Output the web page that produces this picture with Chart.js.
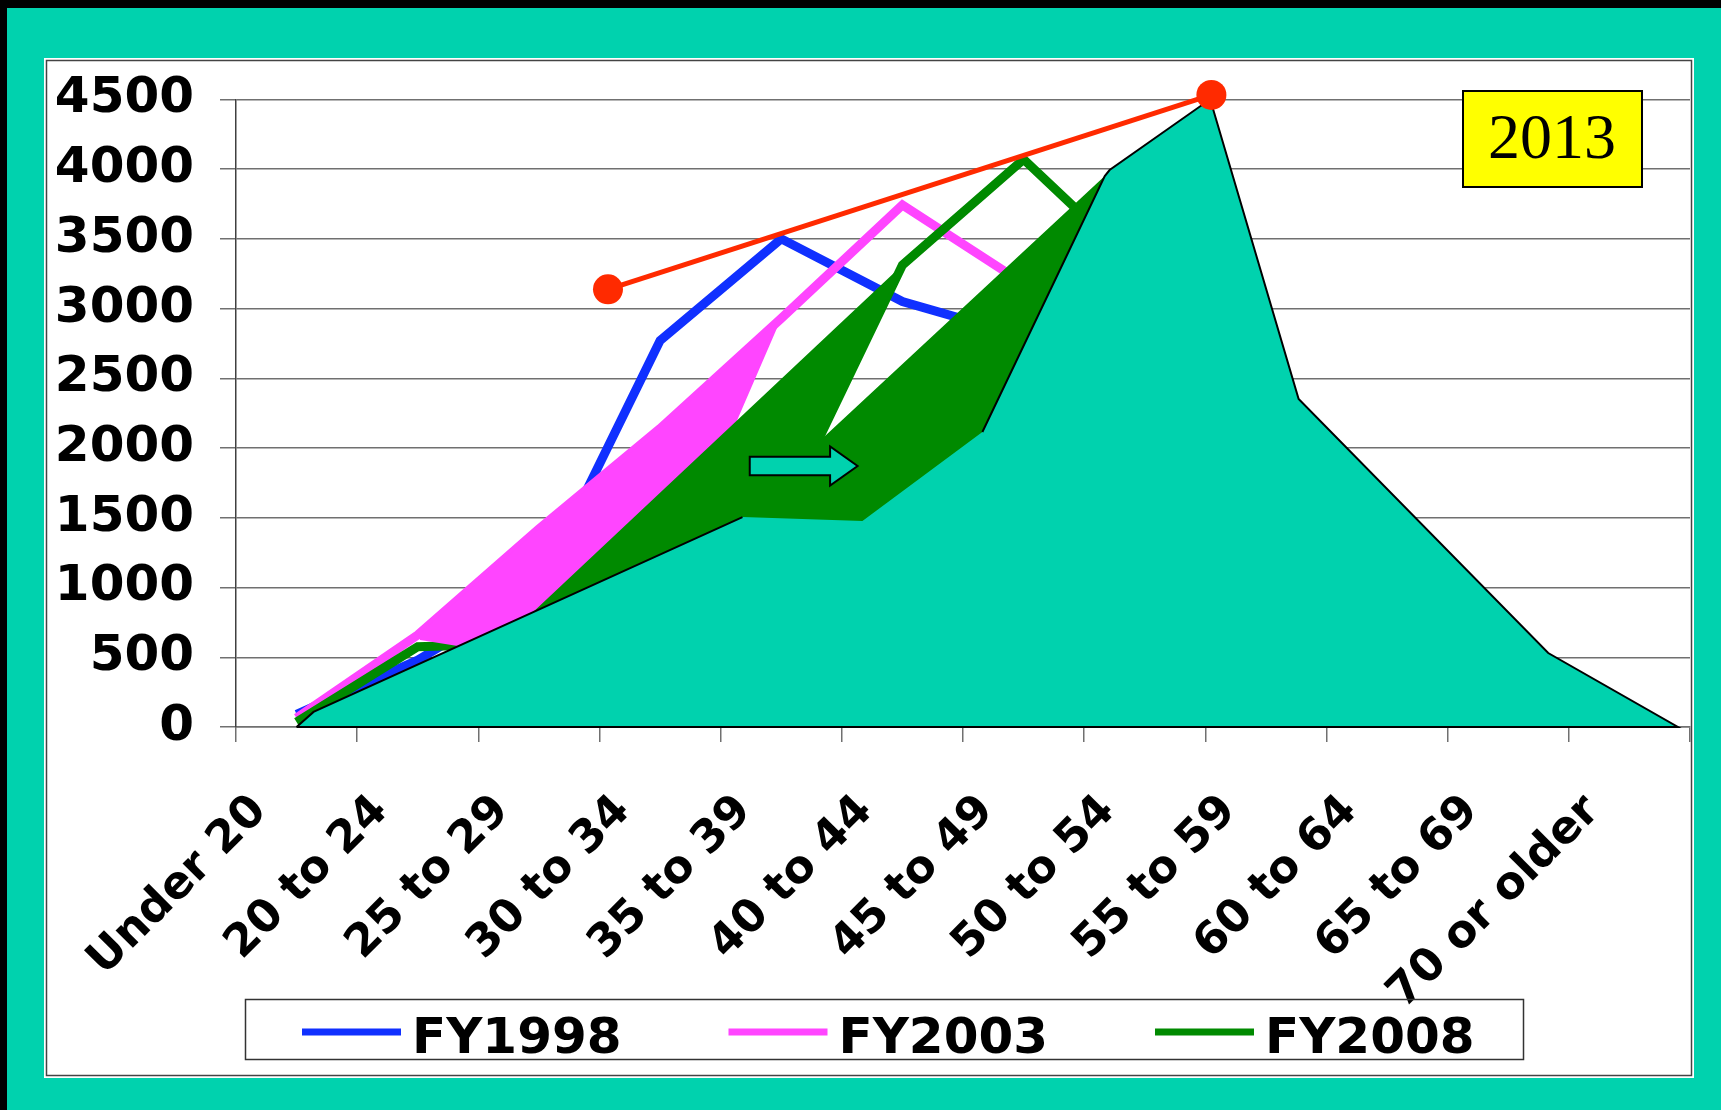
<!DOCTYPE html>
<html>
<head>
<meta charset="utf-8">
<script src="https://cdn.jsdelivr.net/npm/chart.js@4.4.1/dist/chart.umd.min.js"></script>
<style>
  html, body { margin: 0; padding: 0; background: #00D2AE; }
  canvas { display: block; }
</style>
</head>
<body>
<canvas id="chart" width="1721" height="1110"></canvas>
<script>
// Age groups on the horizontal axis
const ageGroups = ['Under 20', '20 to 24', '25 to 29', '30 to 34', '35 to 39', '40 to 44',
                   '45 to 49', '50 to 54', '55 to 59', '60 to 64', '65 to 69', '70 or older'];

// Head count per age group
const fy1998 = [90, 480, 1000, 2770, 3500, 3050, 2800, 2200, 1300, 600, 200, 50];
const fy2003 = [65, 660, 1420, 2140, 2930, 3742, 3180, 2600, 1800, 1000, 400, 100];
const fy2008 = [35, 575, 600, 1000, 1505, 3312, 4070, 3250, 2300, 1300, 500, 80];

// FY2013 profile: position along the age axis (in groups) and head count
const fy2013Pos = [0.50, 0.64, 4.18, 5.17, 6.16, 7.17, 7.21, 8.04, 8.77, 10.83, 11.90, 0.50];
const fy2013Val = [0, 108, 1505, 1477, 2115, 3950, 3993, 4500, 2351, 530, 0, 0];

// Shaded shift bands
const band2003Pos = [1.50, 2.50, 3.50, 4.50, 3.83, 2.67, 1.83, 1.52];
const band2003Val = [660, 1420, 2140, 2930, 1584, 624, 581, 624];
const band2008Pos = [2.18, 5.50, 4.79, 7.17, 6.90, 6.00, 5.00, 4.00];
const band2008Val = [602, 3312, 2029, 3950, 2500, 1600, 1200, 1200];

// Peak trend line
const peakPos = [3.07, 8.05];
const peakVal = [3138, 4531];

// Shift arrow (start and tip, in axis units)
const arrowPos = [4.24, 5.13];
const arrowVal = [1871, 1871];

const yTicks = [0, 500, 1000, 1500, 2000, 2500, 3000, 3500, 4000, 4500];
const seriesNames = ['FY1998', 'FY2003', 'FY2008'];
const yearTag = '2013';

const TEAL = '#00D2AE', BLUE = '#1030FF', PINK = '#FF45FF', GREEN = '#008A00', RED = '#FF2A00';

const centred = vals => vals.map((v, i) => ({ x: i + 0.5, y: v }));
const pairs = (xs, ys) => xs.map((x, i) => ({ x, y: ys[i] }));

Chart.defaults.font.family = '"DejaVu Sans"';

const frame = {
  id: 'frame',
  beforeDraw(chart) {
    const c = chart.ctx;
    c.save();
    c.fillStyle = TEAL;
    c.fillRect(0, 0, chart.width, chart.height);
    c.fillStyle = '#000';
    c.fillRect(0, 0, chart.width, 8);
    c.fillRect(0, 0, 7, chart.height);
    c.fillStyle = '#fff';
    c.fillRect(44, 58, 1650, 1020);
    c.strokeStyle = '#444';
    c.lineWidth = 1.5;
    c.strokeRect(46.5, 60.5, 1645, 1015);
    c.restore();
  }
};

const extras = {
  id: 'extras',
  afterDraw(chart) {
    const c = chart.ctx;
    const xs = chart.scales.x, ys = chart.scales.y;
    c.save();
    // arrow
    const x1 = xs.getPixelForValue(arrowPos[0]), x2 = xs.getPixelForValue(arrowPos[1]);
    const cy = ys.getPixelForValue(arrowVal[0]);
    const xh = x2 - 27.5;
    c.beginPath();
    c.moveTo(x1, cy - 9.2); c.lineTo(xh, cy - 9.2); c.lineTo(xh, cy - 19.5);
    c.lineTo(x2, cy); c.lineTo(xh, cy + 19.5); c.lineTo(xh, cy + 9.2); c.lineTo(x1, cy + 9.2);
    c.closePath();
    c.fillStyle = TEAL; c.fill();
    c.strokeStyle = '#000'; c.lineWidth = 2; c.lineJoin = 'miter'; c.stroke();

    // year tag
    c.fillStyle = '#FFFF00';
    c.fillRect(1462, 90, 181, 98);
    c.strokeStyle = '#000'; c.lineWidth = 2;
    c.strokeRect(1463, 91, 179, 96);
    c.fillStyle = '#000';
    c.font = '64px "Liberation Serif"';
    c.textAlign = 'center'; c.textBaseline = 'alphabetic';
    c.fillText(yearTag, 1552, 158);

    // legend
    c.strokeStyle = '#333'; c.lineWidth = 1.5;
    c.strokeRect(245.5, 999.5, 1278, 60);
    c.font = 'bold 50px "DejaVu Sans"';
    c.textAlign = 'left'; c.textBaseline = 'alphabetic';
    seriesNames.forEach((name, i) => {
      const ds = chart.data.datasets.find(d => d.label === name);
      const sx = 302 + i * 426.5;
      c.fillStyle = ds.borderColor;
      c.fillRect(sx, 1028.5, 99, 7);
      c.fillStyle = '#000';
      c.fillText(name, sx + 110, 1053);
    });
    c.restore();
  }
};

const lineStyle = { pointRadius: 0, pointHoverRadius: 0, borderWidth: 9, fill: false,
                    borderJoinStyle: 'miter', borderCapStyle: 'butt' };
const shapeStyle = { pointRadius: 0, pointHoverRadius: 0, borderWidth: 0,
                     borderColor: 'rgba(0,0,0,0)', fill: 'shape' };

new Chart(document.getElementById('chart'), {
  type: 'line',
  data: {
    datasets: [
      { label: 'peak', data: pairs(peakPos, peakVal), borderColor: RED, borderWidth: 5,
        pointRadius: 15, pointHoverRadius: 15, pointBackgroundColor: RED, pointBorderWidth: 0,
        fill: false, clip: false, order: 0 },
      { label: 'FY2013 outline', data: pairs(fy2013Pos, fy2013Val), borderColor: '#000',
        borderWidth: 2, pointRadius: 0, fill: false, clip: false, order: 1,
        segment: { borderColor: ctx => (ctx.p0DataIndex === 2 || ctx.p0DataIndex === 3) ? 'rgba(0,0,0,0)' : undefined } },
      { label: 'FY2013', data: pairs(fy2013Pos, fy2013Val), backgroundColor: TEAL, ...shapeStyle, order: 2 },
      { label: 'FY2008 band', data: pairs(band2008Pos, band2008Val), backgroundColor: GREEN, ...shapeStyle, order: 3 },
      { label: 'FY2003 band', data: pairs(band2003Pos, band2003Val), backgroundColor: PINK, ...shapeStyle, order: 4 },
      { label: 'FY2008', data: centred(fy2008), borderColor: GREEN, backgroundColor: GREEN, ...lineStyle, order: 5 },
      { label: 'FY2003', data: centred(fy2003), borderColor: PINK, backgroundColor: PINK, ...lineStyle, order: 6 },
      { label: 'FY1998', data: centred(fy1998), borderColor: BLUE, backgroundColor: BLUE, ...lineStyle, order: 7 }
    ]
  },
  options: {
    responsive: false,
    animation: false,
    devicePixelRatio: 1,
    layout: { padding: { left: 0, top: 99.3, right: 31, bottom: 0 } },
    plugins: { legend: { display: false }, tooltip: { enabled: false } },
    events: [],
    scales: {
      x: {
        type: 'linear', min: 0, max: ageGroups.length,
        afterFit(s) { s.height = 383; s.paddingLeft = 0; s.paddingRight = 0; },
        ticks: {
          stepSize: 1, autoSkip: false, minRotation: 45, maxRotation: 45,
          labelOffset: 24, padding: 43, color: '#000',
          font: { size: 45, weight: 'bold' },
          callback: v => ageGroups[v] ?? ''
        },
        grid: { drawOnChartArea: false, color: '#707070', lineWidth: 1.5, tickLength: 15 },
        border: { color: '#707070', width: 1.5 }
      },
      y: {
        type: 'linear', min: 0, max: yTicks[yTicks.length - 1],
        afterFit(s) { s.width = 236; s.paddingTop = 0; s.paddingBottom = 0; },
        afterBuildTicks(s) { s.ticks = yTicks.map(v => ({ value: v })); },
        ticks: { color: '#000', padding: 26, font: { size: 50, weight: 'bold' },
                 callback: v => String(v) },
        grid: { color: '#707070', lineWidth: 1.5, tickLength: 16 },
        border: { color: '#404040', width: 1.5 }
      }
    }
  },
  plugins: [frame, extras]
});
</script>
</body>
</html>
